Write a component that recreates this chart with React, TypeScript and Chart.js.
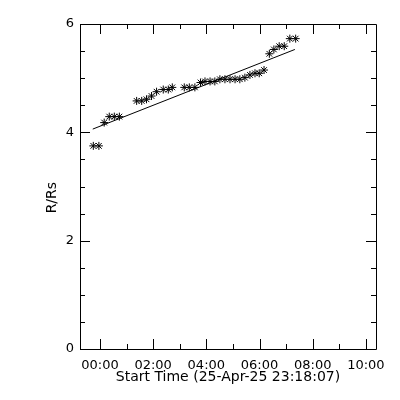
import React, { useEffect, useRef } from "react";
import { Chart, registerables } from "chart.js";

Chart.register(...registerables);

// Hours after start time (25-Apr-25 23:18:07)
const times = [
  -0.25, -0.04, 0.16, 0.35, 0.54, 0.73, 1.38, 1.57, 1.75, 1.94, 2.13, 2.38, 2.57,
  2.72, 3.17, 3.36, 3.57, 3.78, 3.95, 4.14, 4.32, 4.51, 4.7, 4.89, 5.08, 5.26,
  5.45, 5.64, 5.83, 5.99, 6.17, 6.37, 6.54, 6.74, 6.93, 7.14, 7.36,
];
// Height in solar radii
const heights = [
  3.75, 3.75, 4.18, 4.29, 4.29, 4.29, 4.58, 4.58, 4.61, 4.67, 4.75, 4.79, 4.79,
  4.83, 4.83, 4.83, 4.83, 4.92, 4.94, 4.94, 4.94, 4.98, 4.98, 4.98, 4.98, 4.98,
  5.01, 5.06, 5.09, 5.09, 5.15, 5.45, 5.53, 5.59, 5.59, 5.73, 5.73,
];
// Linear fit end points
const fitTimes = [-0.27, 7.33];
const fitHeights = [4.06, 5.53];

const xMin = -0.75;
const xMax = 10.38;
const yMin = 0;
const yMax = 6;
const xTitle = "Start Time (25-Apr-25 23:18:07)";
const yTitle = "R/Rs";

const FONT = "'DejaVu Sans', sans-serif";

const boxTicks = {
  id: "boxTicks",
  afterDraw(chart: any) {
    const { ctx, chartArea: a, scales } = chart;
    const xs = scales.x;
    const ys = scales.y;
    ctx.save();
    ctx.strokeStyle = "#000";
    ctx.lineWidth = 1;
    ctx.beginPath();
    ctx.rect(Math.round(a.left) + 0.5, Math.round(a.top) + 0.5, Math.round(a.right - a.left), Math.round(a.bottom - a.top));
    ctx.stroke();
    ctx.beginPath();
    for (let h = 0; h <= xMax; h += 1) {
      const px = Math.round(xs.getPixelForValue(h)) + 0.5;
      const len = h % 2 === 0 ? 10 : 5;
      ctx.moveTo(px, a.bottom);
      ctx.lineTo(px, a.bottom - len);
      ctx.moveTo(px, a.top);
      ctx.lineTo(px, a.top + len);
    }
    for (let v = yMin; v <= yMax + 1e-6; v += 0.5) {
      const py = Math.round(ys.getPixelForValue(v)) + 0.5;
      const len = Math.abs(v % 2) < 1e-6 ? 10 : 5;
      ctx.moveTo(a.left, py);
      ctx.lineTo(a.left + len, py);
      ctx.moveTo(a.right, py);
      ctx.lineTo(a.right - len, py);
    }
    ctx.stroke();
    ctx.restore();
  },
};

export default function App() {
  const ref = useRef<HTMLCanvasElement>(null);
  useEffect(() => {
    if (!ref.current) return;
    const chart = new Chart(ref.current, {
      type: "scatter",
      data: {
        datasets: [
          {
            data: times.map((t, i) => ({ x: t, y: heights[i] })),
            pointStyle: "star",
            pointRadius: 4,
            borderColor: "#000",
            backgroundColor: "#000",
            borderWidth: 1,
            showLine: false,
          },
          {
            data: fitTimes.map((t, i) => ({ x: t, y: fitHeights[i] })),
            showLine: true,
            pointRadius: 0,
            borderColor: "#000",
            borderWidth: 1,
          },
        ],
      },
      options: {
        animation: false,
        responsive: false,
        layout: { padding: { left: 0, right: 24, top: 24, bottom: 0 } },
        plugins: { legend: { display: false }, tooltip: { enabled: false } },
        scales: {
          x: {
            type: "linear",
            min: xMin,
            max: xMax,
            grid: { display: false, drawTicks: false },
            border: { display: false },
            ticks: {
              stepSize: 2,
              includeBounds: false,
              autoSkip: false,
              maxRotation: 0,
              padding: 9,
              color: "#000",
              font: { family: FONT, size: 13 },
              callback: (v: any) => {
                const h = Number(v);
                if (Math.abs(h - Math.round(h)) > 1e-6) return "";
                return String(Math.round(h)).padStart(2, "0") + ":00";
              },
            },
            title: {
              display: true,
              text: xTitle,
              color: "#000",
              font: { family: FONT, size: 14 },
              padding: { top: 0, bottom: 14 },
            },
            afterFit: (s: any) => {
              s.height = 51;
            },
          },
          y: {
            type: "linear",
            min: yMin,
            max: yMax,
            grid: { display: false, drawTicks: false },
            border: { display: false },
            ticks: {
              stepSize: 2,
              padding: 6,
              color: "#000",
              font: { family: FONT, size: 13 },
            },
            title: {
              display: true,
              text: yTitle + "     ",
              color: "#000",
              font: { family: FONT, size: 14 },
              padding: { top: 44, bottom: 0 },
            },
            afterFit: (s: any) => {
              s.width = 80;
            },
          },
        },
      },
      plugins: [
        {
          id: "whiteBg",
          beforeDraw(c: any) {
            c.ctx.save();
            c.ctx.fillStyle = "#fff";
            c.ctx.fillRect(0, 0, c.width, c.height);
            c.ctx.restore();
          },
        },
        boxTicks,
      ],
    });
    return () => chart.destroy();
  }, []);
  return (
    <div style={{ position: "fixed", left: 0, top: 0, width: 400, height: 400, background: "#fff" }}>
      <canvas ref={ref} width={400} height={400} style={{ width: 400, height: 400 }} />
    </div>
  );
}
